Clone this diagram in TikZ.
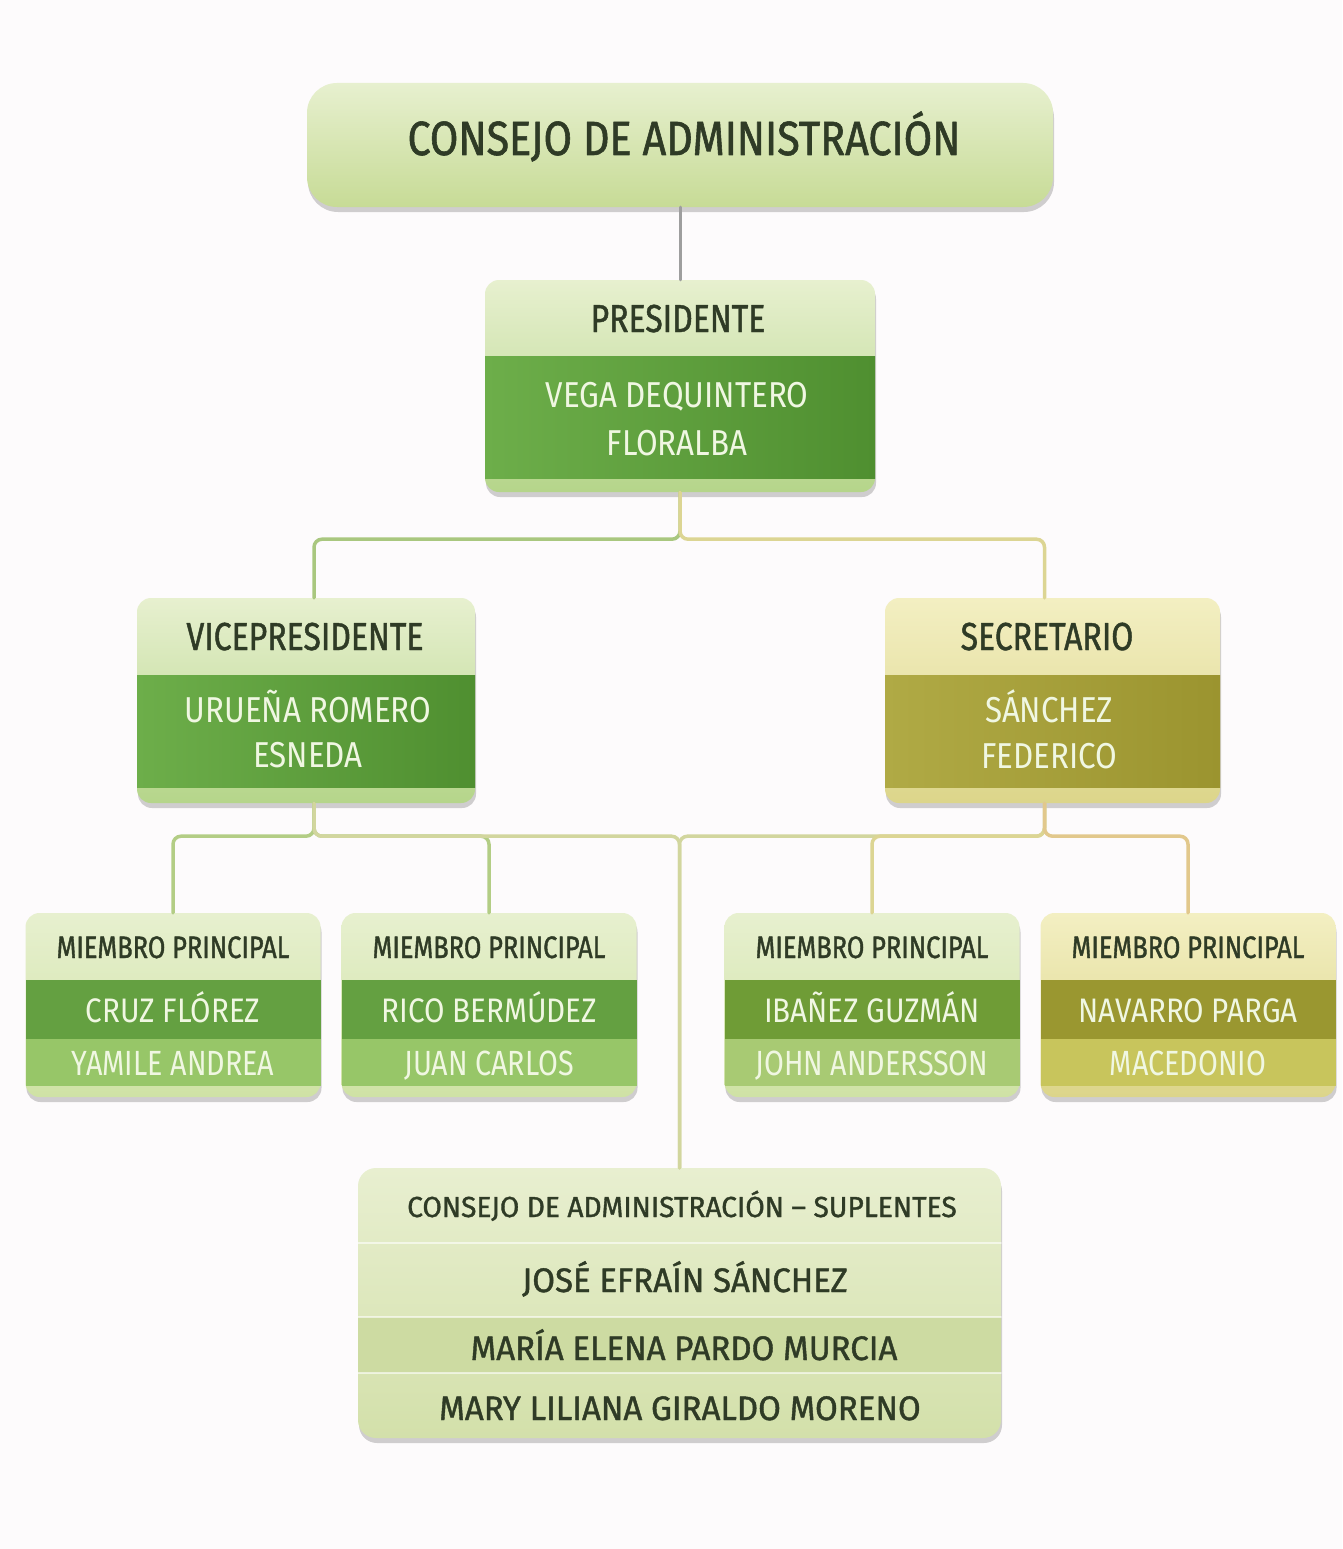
\documentclass[tikz,border=0pt]{standalone}
\usepackage{fontspec}
\newfontfamily\orgfont[FakeStretch=0.82]{Fira Sans}
\newfontfamily\orgname[FakeStretch=0.87]{Fira Sans}
\newfontfamily\orgfontb[FakeStretch=0.82,FakeBold=1.2]{Fira Sans}
\newfontfamily\orgtitle[FakeStretch=0.86,FakeBold=1.2]{Fira Sans}
\newfontfamily\orgsup[FakeStretch=0.97,FakeBold=1.2]{Fira Sans}
\usetikzlibrary{shadows}

\definecolor{bgpage}{HTML}{FDFBFC}
\definecolor{txtdark}{HTML}{2F3B26}
\definecolor{txtlight}{HTML}{F0F7E2}
\definecolor{lightA}{HTML}{E7F0CF}
\definecolor{lightB}{HTML}{CFE2A5}
\definecolor{titleB}{HTML}{C7DB96}
\definecolor{stripG}{HTML}{B5D58A}
\definecolor{greenL}{HTML}{6DAE4A}
\definecolor{greenR}{HTML}{4F8F30}
\definecolor{yellA}{HTML}{F3EFC2}
\definecolor{yellB}{HTML}{DCD58A}
\definecolor{oliveL}{HTML}{B0AA45}
\definecolor{oliveR}{HTML}{9B942F}
\definecolor{memberD}{HTML}{64A041}
\definecolor{memberM}{HTML}{97C668}
\definecolor{memberO}{HTML}{6F9C36}
\definecolor{memberOM}{HTML}{A8CA73}
\definecolor{oliveD}{HTML}{9A9730}
\definecolor{oliveM}{HTML}{C8C55C}
\definecolor{supA}{HTML}{E8EFD0}
\definecolor{supB}{HTML}{D3E0AA}
\definecolor{supBand}{HTML}{CDDBA2}
\definecolor{wireGrey}{HTML}{9E9E9E}
\definecolor{wireG}{HTML}{A9C77F}
\definecolor{wireY}{HTML}{DCD593}
\definecolor{wireG2}{HTML}{B3CD85}
\definecolor{wireO}{HTML}{E2C88C}
\definecolor{wireC}{HTML}{D2D69E}

\begin{document}
\begin{tikzpicture}[x=1pt,y=-1pt,line cap=round,line join=round,
  card/.style={rectangle,inner sep=0pt,rounded corners=14,
    drop shadow={shadow xshift=1pt,shadow yshift=-5pt,opacity=0.18,fill=black}},
  darktxt/.style={text=txtdark,inner sep=0pt,anchor=base},
  lighttxt/.style={text=txtlight,inner sep=0pt,anchor=base},
  wire/.style={line width=3.5pt,rounded corners=8},
  ftitle/.style={font=\orgtitle\fontsize{48}{56}\selectfont},
  fhead/.style={font=\orgfontb\fontsize{39}{46}\selectfont},
  fname/.style={font=\orgname\fontsize{36}{46}\selectfont},
  fmhead/.style={font=\orgfontb\fontsize{31}{36}\selectfont},
  fmname/.style={font=\orgname\fontsize{34}{38}\selectfont},
  fmsub/.style={font=\orgfont\fontsize{35}{40}\selectfont},
  fshead/.style={font=\orgsup\fontsize{29}{34}\selectfont},
  fsname/.style={font=\orgsup\fontsize{34}{40}\selectfont}]
\fill[bgpage] (0,0) rectangle (1342,1549);
\useasboundingbox (0,0) rectangle (1342,1549);

% consejo
\node[card,minimum width=746,minimum height=124,rounded corners=30,top color=lightA,bottom color=titleB] (consejo) at (680,145) {};
\node[darktxt,ftitle] (consejo-t) at (684,155) {CONSEJO DE ADMINISTRACIÓN};

% presidente
\node[card,minimum width=390,minimum height=212,top color=lightA,bottom color=stripG] (pres) at (680,386) {};
\fill[left color=greenL,right color=greenR] (485,356) rectangle (875,478);
\node[darktxt,fhead] (pres-t) at (678,332) {PRESIDENTE};
\node[lighttxt,fname] (pres-a) at (677,407) {VEGA DEQUINTERO};
\node[lighttxt,fname] (pres-b) at (677,455) {FLORALBA};

% vicepresidente
\node[card,minimum width=338,minimum height=205,top color=lightA,bottom color=stripG] (vp) at (306,700.5) {};
\fill[left color=greenL,right color=greenR] (137,675) rectangle (475,787);
\node[darktxt,fhead] (vp-t) at (305,650) {VICEPRESIDENTE};
\node[lighttxt,fname] (vp-a) at (308,722) {URUEÑA ROMERO};
\node[lighttxt,fname] (vp-b) at (308,767) {ESNEDA};

% secretario
\node[card,minimum width=335,minimum height=205,top color=yellA,bottom color=yellB] (sec) at (1052.5,700.5) {};
\fill[left color=oliveL,right color=oliveR] (885,675) rectangle (1220,787);
\node[darktxt,fhead] (sec-t) at (1047,650) {SECRETARIO};
\node[lighttxt,fname] (sec-a) at (1049,722) {SÁNCHEZ};
\node[lighttxt,fname] (sec-b) at (1049,768) {FEDERICO};

% miembros principales
\foreach \nm/\cx/\ctop/\cbot/\cdk/\cmd/\na/\nb in {
  m1/173/lightA/lightB/memberD/memberM/{CRUZ FLÓREZ}/{YAMILE ANDREA},
  m2/489/lightA/lightB/memberD/memberM/{RICO BERMÚDEZ}/{JUAN CARLOS},
  m3/872/lightA/lightB/memberO/memberOM/{IBAÑEZ GUZMÁN}/{JOHN ANDERSSON},
  m4/1188/yellA/yellB/oliveD/oliveM/{NAVARRO PARGA}/{MACEDONIO}}
{
  \node[card,minimum width=295,minimum height=184,top color=\ctop,bottom color=\cbot] (\nm) at (\cx,1005) {};
  \fill[\cdk] ({\cx-147.5},980) rectangle ({\cx+147.5},1039);
  \fill[\cmd] ({\cx-147.5},1039) rectangle ({\cx+147.5},1086);
  \node[darktxt,fmhead] (\nm-t) at (\cx,958) {MIEMBRO PRINCIPAL};
  \node[lighttxt,fmname] (\nm-a) at (\cx,1022) {\na};
  \node[lighttxt,fmsub] (\nm-b) at (\cx,1075) {\nb};
}

% suplentes
\node[card,minimum width=643,minimum height=270,rounded corners=18,top color=supA,bottom color=supB] (sup) at (679.5,1303) {};
\fill[supBand] (358,1317) rectangle (1001,1373);
\foreach \yy in {1243,1317,1373}
  \draw[white,opacity=0.6,line width=1.5pt] (358,\yy) -- (1001,\yy);
\node[darktxt,fshead] (sup-t) at (682,1217) {CONSEJO DE ADMINISTRACIÓN – SUPLENTES};
\node[darktxt,fsname] (sup-a) at (685,1292) {JOSÉ EFRAÍN SÁNCHEZ};
\node[darktxt,fsname] (sup-b) at (684,1360) {MARÍA ELENA PARDO MURCIA};
\node[darktxt,fsname] (sup-c) at (680,1420) {MARY LILIANA GIRALDO MORENO};

% conectores
\draw[wire,draw=wireGrey,line width=3pt] (consejo.south) -- (pres.north);
\draw[wire,draw=wireG] (pres.south) -- ++(0,47) -| ([xshift=8pt]vp.north);
\draw[wire,draw=wireY] (pres.south) -- ++(0,47) -| ([xshift=-8pt]sec.north);
\draw[wire,draw=wireG2] ([xshift=8pt]vp.south) -- ++(0,33) -| (m1.north);
\draw[wire,draw=wireG2] ([xshift=8pt]vp.south) -- ++(0,33) -| (m2.north);
\draw[wire,draw=wireC] ([xshift=8pt]vp.south) -- ++(0,33) -| (sup.north);
\draw[wire,draw=wireC] ([xshift=-8pt]sec.south) -- ++(0,33) -| (sup.north);
\draw[wire,draw=wireY] ([xshift=-8pt]sec.south) -- ++(0,33) -| (m3.north);
\draw[wire,draw=wireO] ([xshift=-8pt]sec.south) -- ++(0,33) -| (m4.north);
\end{tikzpicture}
\end{document}
